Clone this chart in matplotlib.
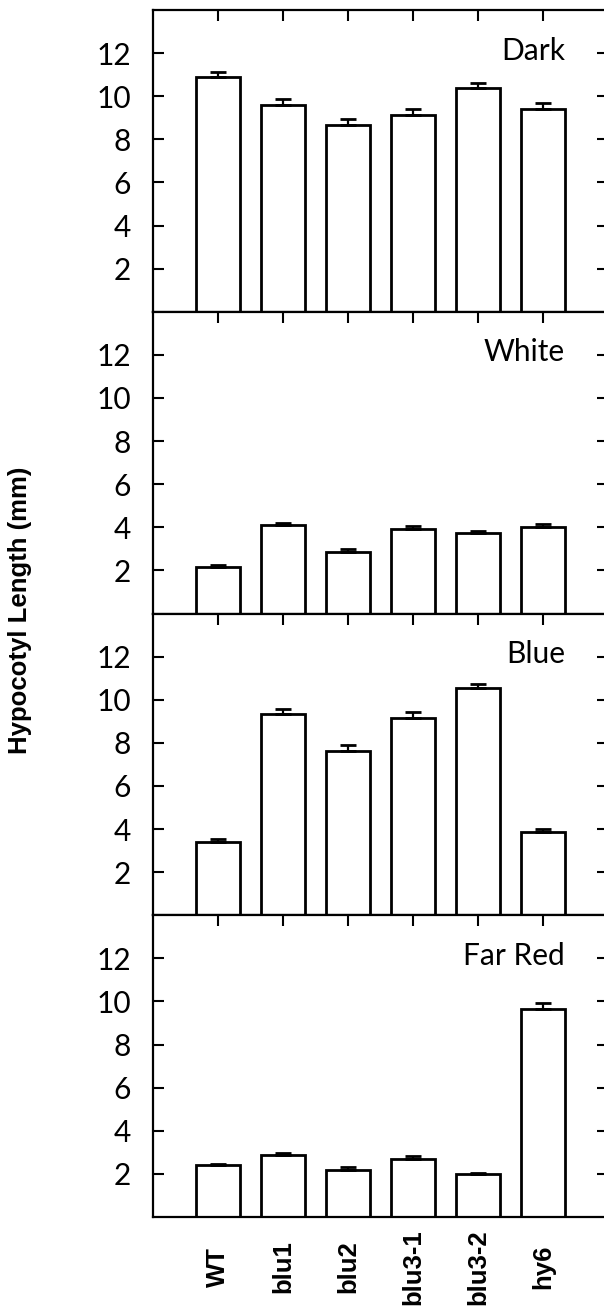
import numpy as np
from matplotlib import pyplot as plt

genotypes = ['WT', 'blu1', 'blu2', 'blu3-1', 'blu3-2', 'hy6']
conditions = ['Dark', 'White', 'Blue', 'Far Red']

dark = [10.88, 9.6, 8.65, 9.12, 10.36, 9.4]
dark_err = [0.25, 0.25, 0.3, 0.3, 0.25, 0.27]
white = [2.17, 4.09, 2.87, 3.9, 3.73, 4.01]
white_err = [0.1, 0.13, 0.1, 0.15, 0.12, 0.14]
blue = [3.4, 9.35, 7.6, 9.16, 10.53, 3.86]
blue_err = [0.15, 0.2, 0.28, 0.28, 0.21, 0.12]
farred = [2.4, 2.86, 2.2, 2.69, 1.99, 9.66]
farred_err = [0.07, 0.09, 0.1, 0.13, 0.06, 0.28]

values = [dark, white, blue, farred]
errors = [dark_err, white_err, blue_err, farred_err]

light_font = ['Lato', 'DejaVu Sans']
bold_font = ['Liberation Sans', 'DejaVu Sans']

W, H = 604, 1316
fig = plt.figure(figsize=(W / 100, H / 100), dpi=100)

x = np.arange(1, len(genotypes) + 1)
left, right, top, bottom = 153, 608, 10, 1217
ph = (bottom - top) / 4

for i, cond in enumerate(conditions):
    y0 = top + ph * (i + 1)
    ax = fig.add_axes([left / W, 1 - y0 / H, (right - left) / W, ph / H])
    ax.bar(x, values[i], width=0.68, color='white', edgecolor='black', linewidth=2, zorder=2)
    ax.errorbar(x, values[i], yerr=[np.zeros(len(x)), errors[i]], fmt='none',
                ecolor='black', elinewidth=1.6, capsize=5.5, capthick=2, zorder=3)
    ax.set_xlim(0, 7)
    ax.set_ylim(0, 14)
    ax.set_yticks([2, 4, 6, 8, 10, 12])
    ax.set_xticks(x)
    for s in ax.spines.values():
        s.set_linewidth(1.6)
    ax.tick_params(direction='in', length=8, width=1.5, top=True, right=True)
    ax.tick_params(axis='y', pad=16)
    for lab in ax.get_yticklabels():
        lab.set_fontsize(21.5)
        lab.set_family(light_font)
    ax.text(6.34, 11.7, cond, ha='right', va='baseline', fontsize=21.5,
            family=light_font)
    if i < 3:
        ax.set_xticklabels([])
    else:
        ax.set_xticklabels(genotypes, rotation=90, fontsize=18.5, fontweight='bold',
                           family=bold_font, va='center')
        ax.tick_params(axis='x', pad=36)

fig.text(20 / W, 1 - 610 / H, 'Hypocotyl Length (mm)', rotation=90, ha='center', va='center',
         fontsize=18.5, fontweight='bold', family=bold_font)

fig.savefig('out.png', dpi=100)
